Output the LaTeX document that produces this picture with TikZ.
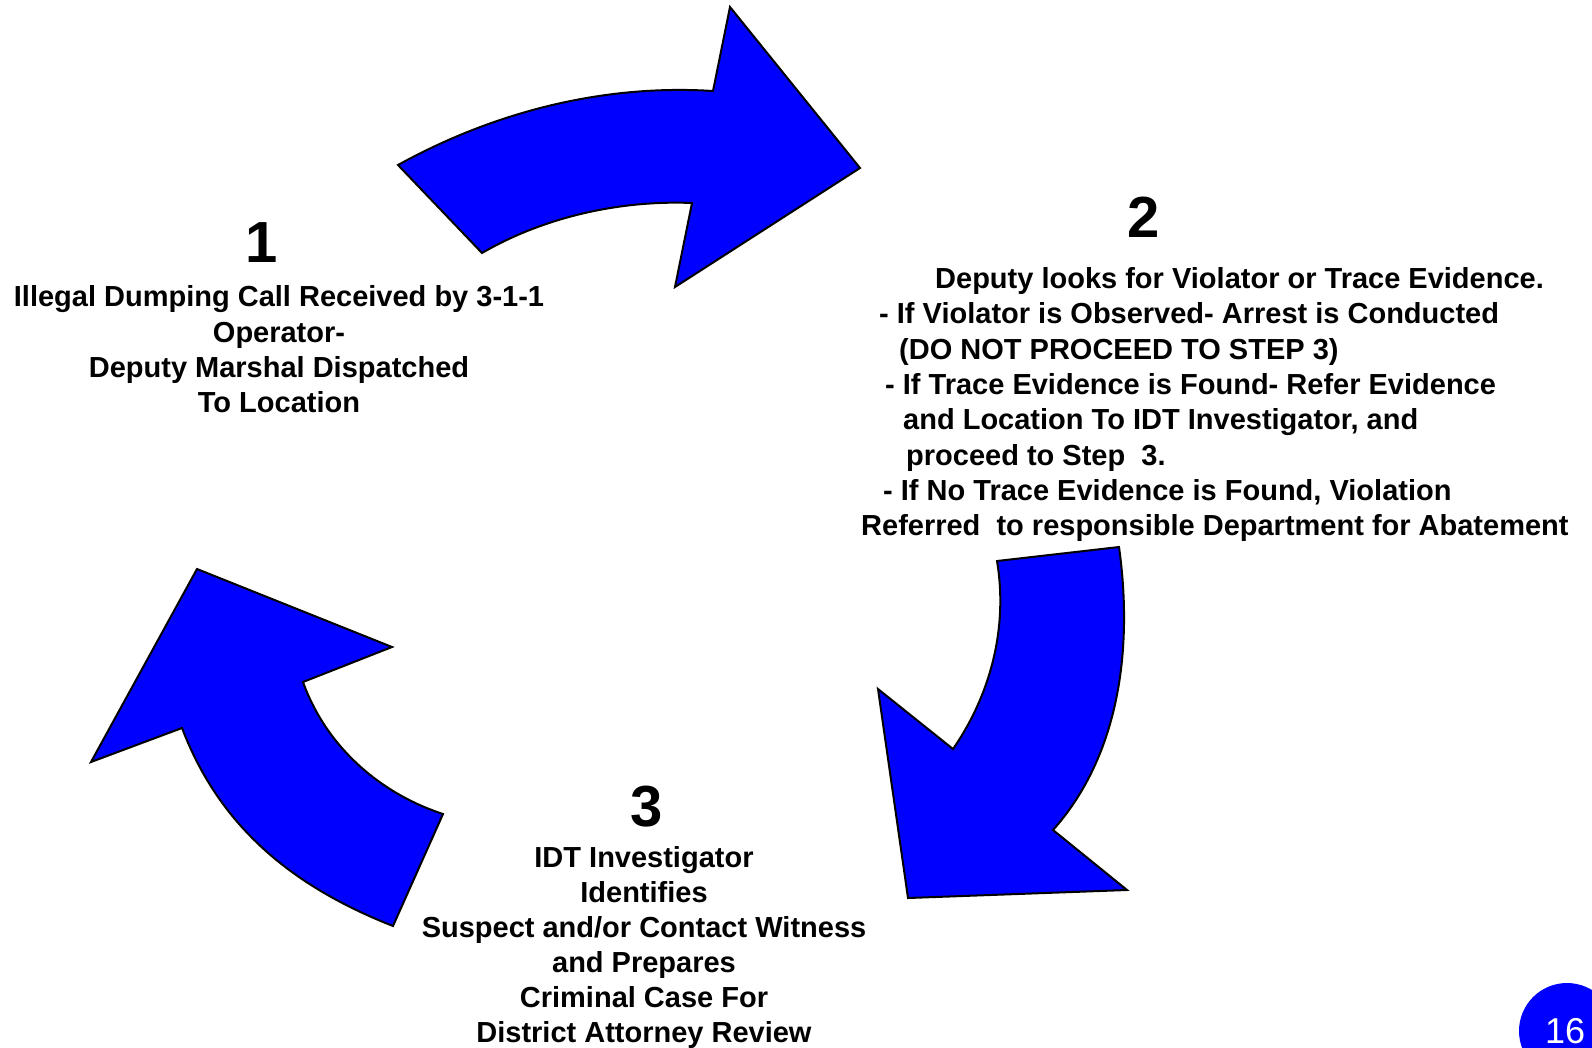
\documentclass[tikz,border=0pt]{standalone}
\usepackage{fontspec}
\setmainfont{Liberation Sans}
\definecolor{arrowblue}{RGB}{0,0,255}
\begin{document}
\begin{tikzpicture}[x=1pt,y=-1pt,
  arrowshape/.style={fill=arrowblue, draw=black, line width=2pt, line join=miter},
  body/.style={font=\fontsize{29}{35}\selectfont\bfseries, inner sep=0pt},
  digit/.style={font=\fontsize{58}{58}\selectfont\bfseries, inner sep=0pt, anchor=base}]
\useasboundingbox (0,0) rectangle (1592,1047);
\clip (0,0) rectangle (1592,1047);

% arrow 1 (top, pointing right)
\draw[arrowshape] (398,165) .. controls (494,112) and (603,84) .. (713,91)
  -- (730,7) -- (860,168) -- (675,287) -- (692,203)
  .. controls (620,200) and (544,217) .. (482,253)
  -- cycle;

% arrow 2 (right, pointing down-left)
\draw[arrowshape] (1119,547) .. controls (1133,647) and (1120,755) .. (1053,830)
  -- (1127,890) -- (908,898) -- (878,689) -- (953,749)
  .. controls (991,694) and (1008,627) .. (997,561)
  -- cycle;

% arrow 3 (left, pointing up)
\draw[arrowshape] (393,926) -- (443,814)
  .. controls (379,793) and (326,746) .. (303,682)
  -- (392,647) -- (197,569) -- (91,762) -- (182,728)
  .. controls (220,828) and (294,887) .. (393,926)
  -- cycle;

% step 1
\node[digit] (n1) at (262,262) {1};
\node[body, anchor=base] (t1a) at (279,306) {Illegal Dumping Call Received by 3-1-1};
\node[body, anchor=base] (t1b) at (279,342) {Operator-};
\node[body, anchor=base] (t1c) at (279,377) {Deputy Marshal Dispatched};
\node[body, anchor=base] (t1d) at (279,412) {To Location};

% step 2
\node[digit] (n2) at (1144,237) {2};
\node[body, anchor=base west] (t2a) at (935,288) {Deputy looks for Violator or Trace Evidence.};
\node[body, anchor=base west] (t2b) at (879,323) {- If Violator is Observed- Arrest is Conducted};
\node[body, anchor=base west] (t2c) at (899,359) {(DO NOT PROCEED TO STEP 3)};
\node[body, anchor=base west] (t2d) at (885,394) {- If Trace Evidence is Found- Refer Evidence};
\node[body, anchor=base west] (t2e) at (903,429) {and Location To IDT Investigator, and};
\node[body, anchor=base west] (t2f) at (906,465) {proceed to Step\ \ 3.};
\node[body, anchor=base west] (t2g) at (883,500) {- If No Trace Evidence is Found, Violation};
\node[body, anchor=base west] (t2h) at (861,535) {Referred\ \ to responsible Department for Abatement};

% step 3
\node[digit] (n3) at (647,826) {3};
\node[body, anchor=base] (t3a) at (644,867) {IDT Investigator};
\node[body, anchor=base] (t3b) at (644,902) {Identifies};
\node[body, anchor=base] (t3c) at (644,937) {Suspect and/or Contact Witness};
\node[body, anchor=base] (t3d) at (644,972) {and Prepares};
\node[body, anchor=base] (t3e) at (644,1007) {Criminal Case For};
\node[body, anchor=base] (t3f) at (644,1042) {District Attorney Review};

% page number
\fill[arrowblue] (1567,1031) circle[radius=48];
\node[text=white, inner sep=0pt, anchor=base, font=\fontsize{36}{36}\selectfont] (pg) at (1565,1043) {16};
\end{tikzpicture}
\end{document}
